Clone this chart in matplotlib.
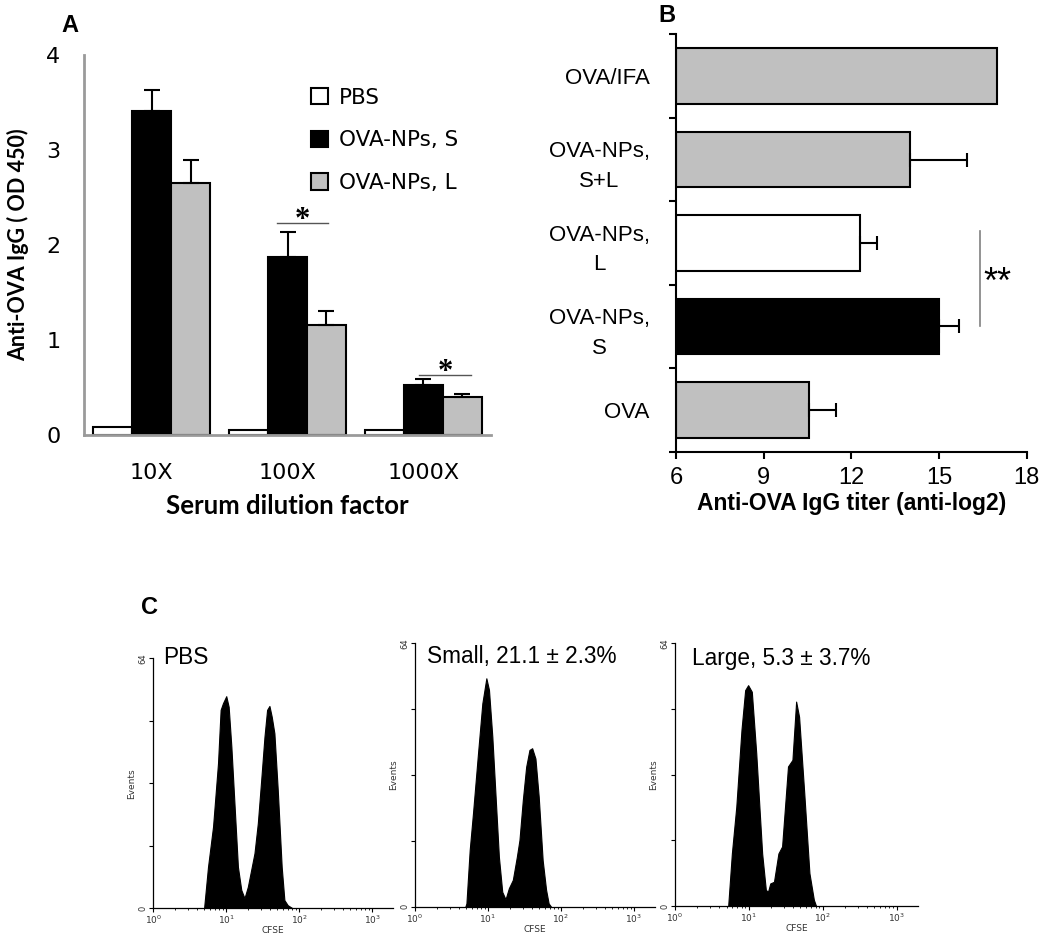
import matplotlib
matplotlib.use("Agg")
import matplotlib.pyplot as plt
import numpy as np

# ---------------- Data ----------------
# Panel A
dilutions = ["10X", "100X", "1000X"]
groups_a = ["PBS", "OVA-NPs, S", "OVA-NPs, L"]
pbs_vals = [0.08, 0.05, 0.05]
s_vals = [3.41, 1.87, 0.53]
s_err = [0.22, 0.27, 0.06]
l_vals = [2.65, 1.16, 0.40]
l_err = [0.24, 0.15, 0.03]
colors_a = ["white", "black", "#c0c0c0"]

# Panel B
cats_b = ["OVA", "OVA-NPs,\nS", "OVA-NPs,\nL", "OVA-NPs,\nS+L", "OVA/IFA"]
titer_vals = [10.55, 15.0, 12.3, 14.0, 17.0]
titer_err = [0.93, 0.68, 0.57, 1.97, 0.0]
colors_b = ["#c0c0c0", "black", "white", "#c0c0c0", "#c0c0c0"]

# Panel C (CFSE histograms: log10 CFSE, events)
pbs_logx = [0.696, 0.75, 0.819, 0.887, 0.923, 0.955, 1.0, 1.033, 1.07, 1.115, 1.16,
            1.206, 1.25, 1.296, 1.35, 1.387, 1.433, 1.479, 1.524, 1.56, 1.592, 1.624,
            1.66, 1.706, 1.76, 1.797, 1.842, 1.91]
pbs_cnt = [0, 10.6, 20.9, 37.1, 50.8, 52.5, 54.3, 51.6, 41.4, 26, 10.6,
           4.7, 2.6, 5.5, 10.6, 14.1, 21.8, 32.8, 43.9, 50.8, 51.8, 49,
           44.8, 30.3, 10.6, 2.1, 0.8, 0]
small_logx = [0.69, 0.705, 0.75, 0.795, 0.864, 0.923, 0.978, 1.014, 1.06, 1.105, 1.15,
              1.196, 1.241, 1.287, 1.341, 1.396, 1.432, 1.478, 1.524, 1.569, 1.606,
              1.651, 1.696, 1.75, 1.797, 1.832, 1.865]
small_cnt = [0, 0.8, 13.8, 22.7, 37.3, 49.4, 55.5, 52.7, 41.3, 26.7, 12.1,
             3.6, 1.8, 4.5, 6.5, 12.1, 16.2, 25.9, 34, 38.1, 38.5,
             36, 26.7, 11.3, 4.1, 0.8, 0]
large_logx = [0.72, 0.77, 0.83, 0.90, 0.95, 0.99, 1.04, 1.10, 1.18, 1.23, 1.26, 1.29,
              1.34, 1.40, 1.45, 1.53, 1.59, 1.64, 1.68, 1.75, 1.82, 1.88, 1.91]
large_cnt = [0, 12.8, 24.2, 42.9, 52.6, 53.8, 52.2, 37.2, 12.8, 3.9, 3.5, 5.5,
             5.9, 12.8, 14.5, 34, 35.6, 49.8, 46.1, 27.5, 8, 1.5, 0]
hist_titles = ["PBS", "Small, 21.1 ± 2.3%", "Large, 5.3 ± 3.7%"]

W, H = 1050, 936
fig = plt.figure(figsize=(W / 100, H / 100), dpi=100)

def rect(x0, y0, x1, y1):
    return [x0 / W, 1 - y1 / H, (x1 - x0) / W, (y1 - y0) / H]

# ---------------- Panel A ----------------
axA = fig.add_axes(rect(84, 55, 491, 435))
x = np.arange(len(dilutions))
bw = 0.287
series = [(pbs_vals, None), (s_vals, s_err), (l_vals, l_err)]
for i, ((vals, err), col, lab) in enumerate(zip(series, colors_a, groups_a)):
    pos = x + (i - 1) * bw
    axA.bar(pos, vals, width=bw, color=col, edgecolor="black", linewidth=1.5,
            label=lab, zorder=2)
    if err is not None:
        axA.errorbar(pos, vals, yerr=[np.zeros(len(err)), err], fmt="none",
                     ecolor="black", elinewidth=1.5, capsize=6, capthick=1.5, zorder=3)
axA.set_xlim(-0.5, 2.5)
axA.set_ylim(0, 4)
axA.set_yticks([0, 1, 2, 3, 4])
axA.set_xticks(x)
axA.set_xticklabels(dilutions)
axA.tick_params(axis="both", length=0, labelsize=16)
axA.tick_params(axis="x", pad=20)
axA.tick_params(axis="y", pad=17)
for s in ["top", "right"]:
    axA.spines[s].set_visible(False)
for s in ["left", "bottom"]:
    axA.spines[s].set_color("#9a9a9a")
    axA.spines[s].set_linewidth(2)
axA.set_ylabel("Anti-OVA IgG ( OD 450)", fontsize=15.5, fontweight="bold",
               family="Lato", labelpad=12)
axA.set_xlabel("Serum dilution factor", fontsize=18.5, fontweight="bold",
               family="Lato", labelpad=8)
leg = axA.legend(loc="upper left", bbox_to_anchor=(0.51, 0.965), frameon=False,
                 fontsize=15.5, handlelength=0.8, handleheight=0.8,
                 labelspacing=1.05, handletextpad=0.5)
# significance marks
axA.plot([x[1] - 0.08, x[1] + 0.3], [2.23, 2.23], color="#555555", lw=1)
axA.text(x[1] + 0.11, 2.26, "*", ha="center", va="center", fontsize=22,
         family="Liberation Serif", fontweight="bold")
axA.plot([x[2] - 0.03, x[2] + 0.35], [0.63, 0.63], color="#555555", lw=1)
axA.text(x[2] + 0.16, 0.66, "*", ha="center", va="center", fontsize=22,
         family="Liberation Serif", fontweight="bold")

fig.text(70 / W, 1 - 25 / H, "A", fontsize=17, fontweight="bold",
         family="Liberation Sans", ha="center", va="center")

# ---------------- Panel B ----------------
axB = fig.add_axes(rect(676, 34.3, 1026.7, 451.7))
yb = np.arange(len(cats_b))
axB.barh(yb, [v - 6 for v in titer_vals], left=6, height=0.67, color=colors_b,
         edgecolor="black", linewidth=1.5, zorder=2)
for yi, v, e in zip(yb, titer_vals, titer_err):
    if e > 0:
        axB.errorbar(v, yi, xerr=[[0], [e]], fmt="none", ecolor="black",
                     elinewidth=1.5, capsize=5, capthick=1.5, zorder=3)
axB.set_xlim(6, 18)
axB.set_ylim(-0.5, 4.5)
axB.set_xticks([6, 9, 12, 15, 18])
axB.set_yticks(yb)
axB.set_yticklabels(cats_b, family="Liberation Sans", fontsize=16,
                    linespacing=1.55, multialignment="center",
                    va="center_baseline")
axB.set_yticks(np.arange(-0.5, 5, 1), minor=True)
axB.tick_params(axis="y", which="major", length=0, pad=19)
axB.tick_params(axis="y", which="minor", length=5, width=1.5)
axB.tick_params(axis="x", length=5, width=1.5, labelsize=17, pad=6)
for lab in axB.get_xticklabels():
    lab.set_family("Liberation Sans")
for s in ["top", "right"]:
    axB.spines[s].set_visible(False)
for s in ["left", "bottom"]:
    axB.spines[s].set_linewidth(1.5)
axB.set_xlabel("Anti-OVA IgG titer (anti-log2)", fontsize=16.5, fontweight="bold",
               family="Liberation Sans", labelpad=2)
axB.plot([16.41, 16.41], [1.0, 2.14], color="#808080", lw=1.2, clip_on=False)
axB.text(16.52, 1.52, "**", fontsize=26, family="Liberation Sans",
         ha="left", va="center")
fig.text(667 / W, 1 - 16 / H, "B", fontsize=17, fontweight="bold",
         family="Liberation Sans", ha="center", va="center")

# ---------------- Panel C ----------------
rects_c = [rect(153.3, 658.3, 393.3, 908.3),
           rect(415, 643.3, 655, 906.7),
           rect(675, 643.3, 918, 906)]
hist_data = [(pbs_logx, pbs_cnt), (small_logx, small_cnt), (large_logx, large_cnt)]
title_pos = [(163, 658), (427, 657), (692, 658)]
for r, (lx, cnt), ttl, (tx, ty) in zip(rects_c, hist_data, hist_titles, title_pos):
    ax = fig.add_axes(r)
    xs = np.power(10.0, lx)
    ax.fill_between(xs, 0, cnt, color="black", linewidth=0.8, edgecolor="black")
    ax.set_xscale("log")
    ax.set_xlim(1, 10 ** 3.29)
    ax.set_ylim(0, 64)
    ax.set_xticks([1, 10, 100, 1000])
    ax.set_xticklabels([r"$10^0$", r"$10^1$", r"$10^2$", r"$10^3$"],
                       fontsize=6.5, color="#333333")
    ax.set_yticks([0, 16, 32, 48, 64])
    ax.set_yticklabels(["0", "", "", "", "64"], fontsize=6, rotation=90,
                       va="center", color="#333333")
    ax.tick_params(axis="both", which="major", length=3, width=0.8, pad=1)
    ax.tick_params(axis="x", which="minor", length=1.5, width=0.6)
    for s in ["top", "right"]:
        ax.spines[s].set_visible(False)
    for s in ["left", "bottom"]:
        ax.spines[s].set_linewidth(0.9)
    ax.set_xlabel("CFSE", fontsize=6.5, labelpad=0, color="#333333")
    ax.set_ylabel("Events", fontsize=6.5, labelpad=2, color="#333333")
    fig.text(tx / W, 1 - ty / H, ttl, fontsize=16.3, family="Liberation Sans",
             ha="left", va="center")

fig.text(150 / W, 1 - 608 / H, "C", fontsize=17, fontweight="bold",
         family="Liberation Sans", ha="center", va="center")

fig.savefig("out.png", dpi=100)
